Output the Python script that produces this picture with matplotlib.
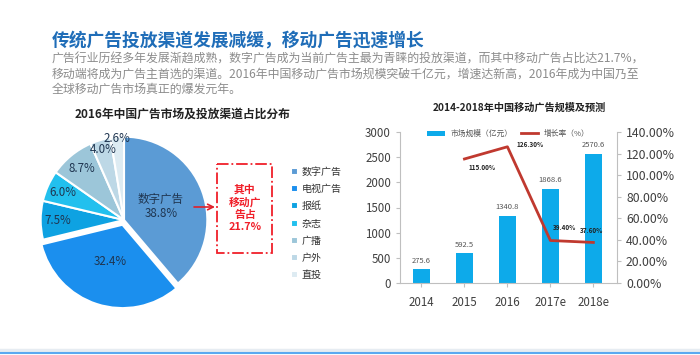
import numpy as np
import matplotlib.pyplot as plt
from matplotlib.patches import Rectangle

plt.rcParams['font.family'] = ['Noto Sans CJK SC', 'DejaVu Sans']

# pie data
channels = ['数字广告', '电视广告', '报纸', '杂志', '广播', '户外', '直投']
shares = [38.8, 32.4, 7.5, 6.0, 8.7, 4.0, 2.6]
pie_colors = ['#5B9BD5', '#1B8FEE', '#0EA2E2', '#22C0EE', '#9CC6D9', '#BDD8E6', '#DDEBF2']

# bar / line data
years = ['2014', '2015', '2016', '2017e', '2018e']
market = [275.6, 592.5, 1340.8, 1868.6, 2570.6]
growth_years = ['2015', '2016', '2017e', '2018e']
growth = [115.0, 126.3, 39.4, 37.6]

W, H = 700, 355
fig = plt.figure(figsize=(7, 3.55), dpi=100, facecolor='white')

def box(l, t, r, b):
    return [l / W, (H - b) / H, (r - l) / W, (b - t) / H]

# overlay in pixel coordinates for header and decorations
ov = fig.add_axes([0, 0, 1, 1])
ov.set_xlim(0, W)
ov.set_ylim(H, 0)
ov.axis('off')
ov.set_zorder(10)

ov.text(52, 41, '传统广告投放渠道发展减缓，移动广告迅速增长', fontsize=12.8,
        fontweight='bold', color='#1F6DB8', va='center', ha='left')
para = ['广告行业历经多年发展渐趋成熟，数字广告成为当前广告主最为青睐的投放渠道，而其中移动广告占比达21.7%，',
        '移动端将成为广告主首选的渠道。2016年中国移动广告市场规模突破千亿元，增速达新高，2016年成为中国乃至',
        '全球移动广告市场真正的爆发元年。']
for i, line in enumerate(para):
    ov.text(52, 59 + i * 15, line, fontsize=8.6, color='#8C8C8C', va='center', ha='left')

ov.text(183, 114, '2016年中国广告市场及投放渠道占比分布', fontsize=8.5, fontweight='bold',
        color='#222222', ha='center', va='center')
ov.text(519, 108, '2014-2018年中国移动广告规模及预测', fontsize=7.3, fontweight='bold',
        color='#222222', ha='center', va='center')

# red callout
ov.add_patch(Rectangle((217, 164), 55, 89, fill=False, edgecolor='#F0202A',
                       linestyle='-.', linewidth=1.3))
ov.text(245, 208, '其中\n移动广\n告占\n21.7%', fontsize=7.8, fontweight='bold',
        color='#F0202A', ha='center', va='center', linespacing=1.25)
ov.annotate('', xy=(215, 207), xytext=(194, 207),
            arrowprops=dict(arrowstyle='->', color='#E0202A', lw=1.2,
                            shrinkA=0, shrinkB=0))

# bottom band
ov.plot([0, W], [349.5, 349.5], color='#E6ECF2', lw=2.5)
ov.plot([0, W], [352.5, 352.5], color='#5AA9F0', lw=1.5)

# pie
ax1 = fig.add_axes(box(24, 120, 224, 320))
explode = [0, 0.06, 0, 0, 0, 0, 0]
wedges, _ = ax1.pie(shares, colors=pie_colors, startangle=90, counterclock=False,
                    explode=explode, radius=1.0,
                    wedgeprops=dict(edgecolor='white', linewidth=1.5))
ax1.set_xlim(-1.2, 1.2)
ax1.set_ylim(-1.2, 1.2)
ax1.set_aspect('equal')
label_r = [0.47, 0.52, 0.8, 0.8, 0.8, 0.88, 0.98]
for w, s, r, name in zip(wedges, shares, label_r, channels):
    ang = np.deg2rad((w.theta1 + w.theta2) / 2)
    txt = f'{s:.1f}%'
    if name == '数字广告':
        txt = name + '\n' + txt
    ax1.text(r * np.cos(ang), r * np.sin(ang), txt, ha='center', va='center',
             fontsize=8.3, color='#1F3550', linespacing=1.1)
ax1.legend(wedges, channels, loc='upper left', bbox_to_anchor=(282 / W, (H - 158) / H),
           bbox_transform=fig.transFigure, frameon=False, fontsize=7.2,
           handlelength=0.7, handleheight=0.7, handletextpad=0.4,
           labelspacing=0.72, labelcolor='#333333')

# bars + growth line
ax2 = fig.add_axes(box(400, 132, 617, 283))
x = np.arange(len(years))
bars = ax2.bar(x, market, width=0.4, color='#0DAAEA', label='市场规模（亿元）')
ax2.set_ylim(0, 3000)
ax2.set_xlim(-0.5, 4.55)
ax2.set_yticks(range(0, 3001, 500))
ax2.set_xticks(x, years)
for xi, v in zip(x, market):
    ax2.text(xi, v + 90, f'{v:.1f}', ha='center', va='bottom', fontsize=5.5, color='#555555')
for s in ['top', 'right']:
    ax2.spines[s].set_visible(False)
for s in ['left', 'bottom']:
    ax2.spines[s].set_color('#BFBFBF')
ax2.tick_params(colors='#BFBFBF', labelcolor='#404040', labelsize=8.3, length=3)
ax2.tick_params(axis='x', length=3, pad=6)

ax3 = ax2.twinx()
gx = [years.index(y) for y in growth_years]
ln, = ax3.plot(gx, growth, color='#C0392F', lw=2, label='增长率（%）')
ax3.set_ylim(0, 140)
ax3.set_yticks(range(0, 141, 20))
ax3.set_yticklabels([f'{v:.2f}%' for v in range(0, 141, 20)])
for s in ['top', 'left', 'bottom']:
    ax3.spines[s].set_visible(False)
ax3.spines['right'].set_color('#BFBFBF')
ax3.tick_params(colors='#BFBFBF', labelcolor='#404040', labelsize=8.8, length=3)
offsets = [(0.1, -8), (0.2, 2.5), (0.05, 12), (-0.05, 11.5)]
for xi, g, (dx, dy) in zip(gx, growth, offsets):
    ax3.text(xi + dx, g + dy, f'{g:.2f}%', ha='left' if dx > 0 else 'center',
             va='center', fontsize=4.6, fontweight='bold', color='#222222')

ax2.legend([bars, ln], ['市场规模（亿元）', '增长率（%）'], loc='upper center',
           bbox_to_anchor=(0.5, 1.06), ncol=2, frameon=False, fontsize=5.6,
           handlelength=2.2, handleheight=0.6, columnspacing=1.0, labelcolor='#555555')

fig.savefig('out.png', dpi=100, facecolor='white')
